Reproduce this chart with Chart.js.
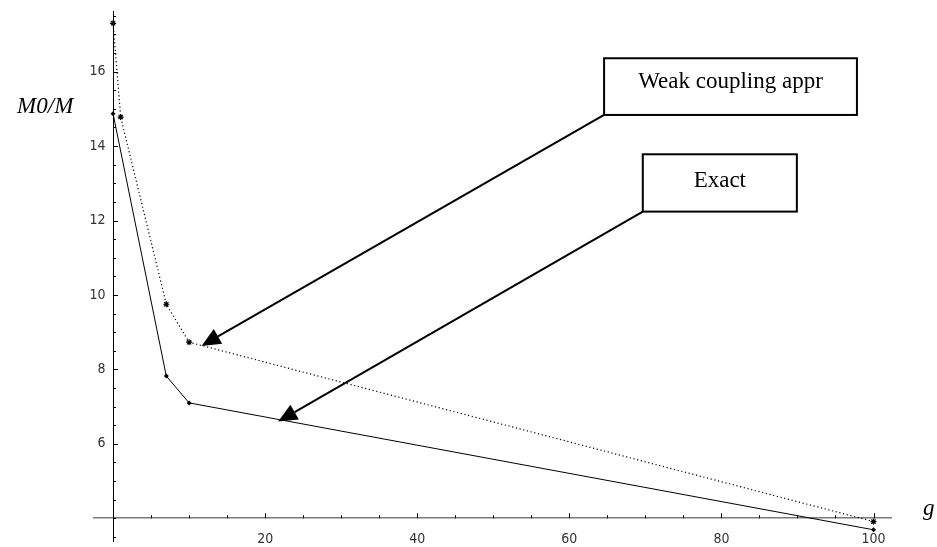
<!DOCTYPE html>
<html>
<head>
<meta charset="utf-8">
<script src="https://cdn.jsdelivr.net/npm/chart.js@4/dist/chart.umd.min.js"></script>
<style>
  html, body { margin: 0; padding: 0; background: #fff; }
  #wrap { width: 937px; height: 547px; }
</style>
</head>
<body>
<div id="wrap"><canvas id="c" width="937" height="547"></canvas></div>
<script>
// ---- data ----
const gExact = [0, 7, 10, 100];
const mExact = [14.87, 7.82, 7.10, 3.69];
const gWeak  = [0, 1, 7, 10, 100];
const mWeak  = [17.30, 14.78, 9.75, 8.73, 3.91];

// ---- axes / ticks ----
const xTickLabels = [20, 40, 60, 80, 100];
const yTickLabels = [6, 8, 10, 12, 14, 16];
const xMinorStep = 5;
const yMinorStep = 0.5;
const xRange = [-2.6, 102.3];
const yRange = [3.37, 17.63];
const axisCross = { x: 0, y: 4 };

const yAxisTitle = 'M0/M';
const xAxisTitle = 'g';

// ---- callouts (data coordinates) ----
const callouts = [
  { text: 'Weak coupling appr', box: [64.57, 16.36, 97.82, 14.837], tip: [11.63, 8.63], dy: 1 },
  { text: 'Exact',              box: [69.66, 13.78, 89.92, 12.24],  tip: [21.71, 6.60], dy: 4 }
];

function range(a, b, step) {
  const out = [];
  for (let v = a; v <= b + 1e-9; v += step) out.push(Math.round(v * 1000) / 1000);
  return out;
}

const tickFont = { family: '"Liberation Sans Narrow", "DejaVu Sans Condensed", "Liberation Sans", sans-serif', size: 14 };

const decorations = {
  id: 'decorations',
  afterDraw(chart) {
    const ctx = chart.ctx;
    const xs = chart.scales.x, ys = chart.scales.y;
    const x0 = xs.getPixelForValue(axisCross.x);
    const y0 = ys.getPixelForValue(axisCross.y);
    ctx.save();
    // tick marks (inside: right of y axis, above x axis)
    ctx.strokeStyle = '#000';
    ctx.lineWidth = 1;
    ys.ticks.forEach(t => {
      const py = Math.round(ys.getPixelForValue(t.value)) + 0.5;
      const len = yTickLabels.includes(t.value) ? 5 : 3;
      ctx.beginPath(); ctx.moveTo(x0, py); ctx.lineTo(x0 + len, py); ctx.stroke();
    });
    xs.ticks.forEach(t => {
      const px = Math.round(xs.getPixelForValue(t.value)) + 0.5;
      const len = xTickLabels.includes(t.value) ? 5 : 3;
      ctx.beginPath(); ctx.moveTo(px, y0); ctx.lineTo(px, y0 - len); ctx.stroke();
    });

    // axis titles
    ctx.fillStyle = '#000';
    ctx.font = 'italic 23px "Liberation Serif", "Times New Roman", serif';
    ctx.textAlign = 'right';
    ctx.textBaseline = 'alphabetic';
    ctx.fillText(yAxisTitle, chart.chartArea.left - 20, ys.getPixelForValue(14.9));
    ctx.textAlign = 'left';
    ctx.fillText(xAxisTitle, chart.chartArea.right + 32, y0 - 3);

    // callouts
    callouts.forEach(c => {
      const bx1 = xs.getPixelForValue(c.box[0]), by1 = ys.getPixelForValue(c.box[1]);
      const bx2 = xs.getPixelForValue(c.box[2]), by2 = ys.getPixelForValue(c.box[3]);
      const tx = xs.getPixelForValue(c.tip[0]), ty = ys.getPixelForValue(c.tip[1]);
      // arrow
      const dx = tx - bx1, dy = ty - by2;
      const L = Math.hypot(dx, dy), ux = dx / L, uy = dy / L;
      const headLen = 19, headHalf = 8.5;
      const bcx = tx - ux * headLen, bcy = ty - uy * headLen;
      ctx.strokeStyle = '#000';
      ctx.lineWidth = 2;
      ctx.beginPath(); ctx.moveTo(bx1, by2); ctx.lineTo(bcx, bcy); ctx.stroke();
      ctx.beginPath();
      ctx.moveTo(tx, ty);
      ctx.lineTo(bcx - uy * headHalf, bcy + ux * headHalf);
      ctx.lineTo(bcx + uy * headHalf, bcy - ux * headHalf);
      ctx.closePath();
      ctx.fillStyle = '#000';
      ctx.fill();
      // box
      ctx.fillStyle = '#fff';
      ctx.fillRect(bx1, by1, bx2 - bx1, by2 - by1);
      ctx.lineWidth = 2;
      ctx.strokeRect(bx1, by1, bx2 - bx1, by2 - by1);
      // text
      ctx.fillStyle = '#000';
      ctx.font = '23px "Liberation Serif", "Times New Roman", serif';
      ctx.textAlign = 'center';
      ctx.textBaseline = 'alphabetic';
      ctx.fillText(c.text, (bx1 + bx2) / 2, (by1 + by2) / 2 + c.dy);
    });
    ctx.restore();
  }
};

new Chart(document.getElementById('c'), {
  type: 'line',
  data: {
    datasets: [
      {
        label: 'Exact',
        data: gExact.map((g, i) => ({ x: g, y: mExact[i] })),
        borderColor: '#000',
        backgroundColor: '#000',
        borderWidth: 1,
        pointStyle: 'rectRot',
        pointRadius: 2.5,
        pointBorderWidth: 0,
        tension: 0,
        clip: false
      },
      {
        label: 'Weak coupling appr',
        data: gWeak.map((g, i) => ({ x: g, y: mWeak[i] })),
        borderColor: '#000',
        backgroundColor: '#000',
        borderWidth: 1.2,
        borderDash: [1.2, 2.6],
        pointStyle: 'star',
        pointRadius: 3,
        pointBorderWidth: 1.2,
        tension: 0,
        clip: false
      }
    ]
  },
  options: {
    responsive: false,
    animation: false,
    events: [],
    layout: { padding: { left: 93.3, right: 46, top: 11, bottom: 5.3 } },
    plugins: { legend: { display: false }, tooltip: { enabled: false } },
    scales: {
      x: {
        type: 'linear',
        min: xRange[0], max: xRange[1],
        position: { y: axisCross.y },
        afterBuildTicks(s) { s.ticks = range(xMinorStep, xRange[1], xMinorStep).map(v => ({ value: v })); },
        afterFit(s) { s.height = 0; s.paddingLeft = 0; s.paddingRight = 0; s.paddingTop = 0; s.paddingBottom = 0; },
        grid: { display: true, drawOnChartArea: false, drawTicks: false },
        border: { display: true, color: '#7a7a7a', width: 1.6 },
        ticks: {
          autoSkip: false, maxRotation: 0, padding: 13,
          color: '#333', font: tickFont,
          callback: v => xTickLabels.includes(v) ? String(v) : ''
        }
      },
      y: {
        type: 'linear',
        min: yRange[0], max: yRange[1],
        position: { x: axisCross.x },
        afterBuildTicks(s) { s.ticks = range(3.5, 17.5, yMinorStep).map(v => ({ value: v })); },
        afterFit(s) { s.width = 0; s.paddingLeft = 0; s.paddingRight = 0; s.paddingTop = 0; s.paddingBottom = 0; },
        grid: { display: true, drawOnChartArea: false, drawTicks: false },
        border: { display: true, color: '#000', width: 1 },
        ticks: {
          autoSkip: false, padding: 8,
          color: '#333', font: tickFont,
          callback: v => yTickLabels.includes(v) ? String(v) + '\u2002\u200A' : ''
        }
      }
    }
  },
  plugins: [decorations]
});
</script>
</body>
</html>
